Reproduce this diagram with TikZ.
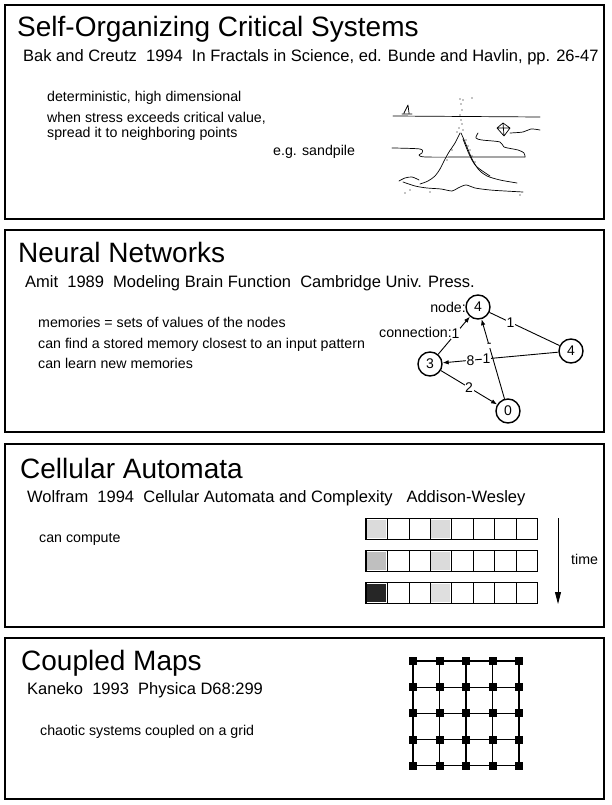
\documentclass[tikz,border=0pt]{standalone}
\usepackage{fontspec}
\setmainfont{Liberation Sans}
\usetikzlibrary{arrows.meta}

\begin{document}
\begin{tikzpicture}[x=1pt,y=-1pt,
  >={Latex[length=6pt,width=4.5pt]},
  panel/.style={line width=1.6pt},
  ttl/.style={anchor=base west,inner sep=0pt,font=\fontsize{28}{31}\selectfont},
  refline/.style={anchor=base west,inner sep=0pt,font=\fontsize{16.5}{19}\selectfont},
  txt/.style={anchor=base west,inner sep=0pt,font=\fontsize{14.2}{16}\selectfont},
  nn/.style={circle,draw,line width=1.4pt,minimum size=24pt,inner sep=0pt,font=\fontsize{14}{16}\selectfont},
  wt/.style={fill=white,inner sep=0.6pt,font=\fontsize{14}{16}\selectfont},
  cell/.style={draw,line width=0.6pt,minimum width=21.4pt,minimum height=20.5pt,inner sep=0pt},
  site/.style={fill=black,minimum size=8pt,inner sep=0pt},
  sketch/.style={line width=0.7pt,line cap=round,line join=round}]
  \useasboundingbox (0,0) rectangle (612,805);

  % panels
  \draw[panel] (5,5) rectangle (604,219);
  \draw[panel] (5,230) rectangle (604,432);
  \draw[panel] (5,444) rectangle (604,627);
  \draw[panel] (5,638) rectangle (604,799);

  % self-organizing critical systems
  \node[ttl] (soc) at (17,37) {Self-Organizing Critical Systems};
  \node[refline] (socref) at (23,62) {Bak and Creutz\ \ 1994\ \ In Fractals in Science, ed. Bunde and Havlin, pp. 26-47};
  \node[txt] (soca) at (47,102) {deterministic, high dimensional};
  \node[txt] (socb) at (47,123) {when stress exceeds critical value,};
  \node[txt] (socc) at (47,138) {spread it to neighboring points};
  \node[txt] (socd) at (273,156) {e.g. sandpile};

  % sandpile sketch
  \draw[sketch] (393,116) -- (540,117);
  \draw[sketch] (402,114) -- (412,114) (404,113) -- (408,105) -- (409,113);
  \draw[sketch] plot[smooth] coordinates {(392,148) (420,149) (422,153) (419,155) (426,157) (473,157) (525,157)};
  \draw[sketch] plot[smooth] coordinates {(478,133) (476,138) (482,140) (500,142) (504,147) (518,150) (524,153) (525,157)};
  \draw[sketch] (497,128) -- (503,123) -- (510,128) -- (504,136) -- cycle (497,128) -- (510,128) (503,123) -- (504,136);
  \draw[sketch] plot[smooth] coordinates {(510,133) (523,132) (531,129) (540,130)};
  \draw[sketch] plot[smooth] coordinates {(460,133) (455,143) (449,152) (444,161) (440,169) (435,176) (428,181) (420,184)};
  \draw[sketch] plot[smooth] coordinates {(461,133) (465,142) (469,152) (473,161) (479,170) (487,176) (500,180) (517,183)};
  \draw[sketch] plot[smooth] coordinates {(463,139) (469,154) (476,166) (490,176)};
  \draw[sketch] plot[smooth] coordinates {(403,182) (415,186) (427,188) (441,189) (452,191) (458,188) (466,185) (475,188) (490,190) (505,191) (523,192)};
  \draw[sketch] plot[smooth] coordinates {(399,181) (405,178) (412,177) (419,180)};
  \foreach \p in {(460,99),(463,100),(472,98),(461,104),(462,110),(460,115),(461,120),(462,124),(459,128),(463,130),(457,132),
                  (466,140),(468,146),(470,150),(472,156),(475,162),(452,150),(447,160),(405,193),(410,190),(430,192),(520,195)}
    \fill \p circle (0.7pt);

  % neural networks
  \node[ttl] (nnt) at (18,262) {Neural Networks};
  \node[refline] (nnref) at (25,287) {Amit\ \ 1989\ \ Modeling Brain Function\ \ Cambridge Univ. Press.};
  \node[txt] (nna) at (38,327) {memories = sets of values of the nodes};
  \node[txt] (nnb) at (38,348) {can find a stored memory closest to an input pattern};
  \node[txt] (nnc) at (38,368) {can learn new memories};

  \node[nn] (n4a) at (478,307) {4};
  \node[nn] (n4b) at (571,351) {4};
  \node[nn] (n3) at (430,364) {3};
  \node[nn] (n0) at (508,411) {0};
  \node[txt,anchor=east] (lnode) at (466,307) {node:};
  \node[txt,anchor=east] (lconn) at (452,332) {connection:};

  \draw[->,line width=0.9pt] (n3) -- (n4a) node[wt,pos=0.55] {1};
  \draw[line width=0.9pt] (n4a) -- (n4b) node[wt,pos=0.3] {1};
  \draw[->,line width=0.9pt] (n4b) -- (n3) node[wt,pos=0.62] {1} node[wt,pos=0.76] {8};
  \draw[->,line width=0.9pt] (n0) -- (n4a) node[wt,pos=0.67,inner sep=0.2pt] {-};
  \draw[->,line width=0.9pt] (n3) -- (n0) node[wt,pos=0.5] {2};

  % cellular automata
  \node[ttl] (cat) at (20,478) {Cellular Automata};
  \node[refline] (caref) at (27,502) {Wolfram\ \ 1994\ \ Cellular Automata and Complexity\ \ \ Addison-Wesley};
  \node[txt] (caa) at (39,542) {can compute};

  \foreach \r/\ya/\fa/\fb in {0/529/gray!28/gray!28, 1/561/gray!50/gray!28, 2/593/black!85/gray!25} {
    \foreach \c in {0,...,7}
      \node[cell] (c\r\c) at ({376.7+21.4*\c},\ya) {};
    \fill[\fa] ([xshift=1.5pt,yshift=-1.5pt]c\r0.north west) rectangle ([xshift=-1.5pt,yshift=1.5pt]c\r0.south east);
    \fill[\fb] ([xshift=1.5pt,yshift=-1.5pt]c\r3.north west) rectangle ([xshift=-1.5pt,yshift=1.5pt]c\r3.south east);
    \draw[line width=1.2pt] (c\r0.north west) rectangle (c\r7.south east);
  }
  \coordinate (ta) at (558,518);
  \coordinate (tb) at (558,604);
  \draw[-{Triangle[length=12pt,width=6pt]},line width=0.8pt] (ta) -- (tb);
  \node[txt] (time) at (571,564) {time};

  % coupled maps
  \node[ttl] (cmt) at (21,670) {Coupled Maps};
  \node[refline] (cmref) at (27,694) {Kaneko\ \ 1993\ \ Physica D68:299};
  \node[txt] (cma) at (40,735) {chaotic systems coupled on a grid};

  \foreach \i in {0,...,4}
    \foreach \j in {0,...,4}
      \node[site] (g\i\j) at ({413+26.5*\i},{661+26.2*\j}) {};
  \foreach \i in {0,...,4} {
    \draw[line width=1.3pt] (g\i0) -- (g\i4);
    \draw[line width=1.3pt] (g0\i) -- (g4\i);
  }
\end{tikzpicture}
\end{document}
